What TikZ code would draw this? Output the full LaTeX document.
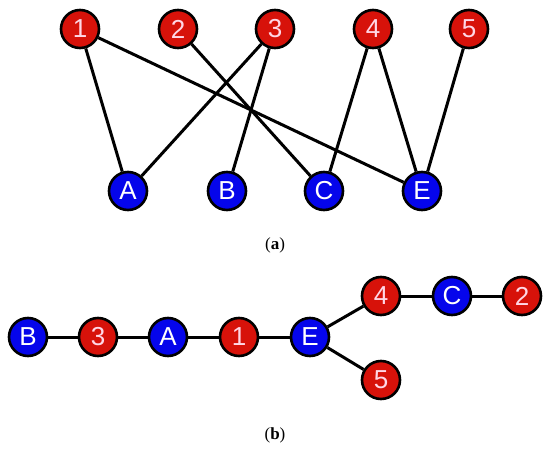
\documentclass[tikz,border=0pt]{standalone}
\usepackage{fontspec}
\newfontfamily\nodefont{Liberation Sans}
\newfontfamily\capfont{Liberation Serif}
\definecolor{nred}{RGB}{215,18,10}
\definecolor{nblue}{RGB}{5,5,235}
\definecolor{npink}{RGB}{255,215,230}
\tikzset{
  vert/.style={circle, draw=black, line width=2.6pt, minimum size=38pt, inner sep=0pt, font=\nodefont\fontsize{26}{26}\selectfont},
  rednode/.style={vert, fill=nred, text=npink},
  bluenode/.style={vert, fill=nblue, text=white},
  edge/.style={line width=3pt, black},
  captext/.style={font=\capfont\fontsize{17}{19}\selectfont}
}
\begin{document}
\begin{tikzpicture}[x=1pt,y=-1pt]
\useasboundingbox (0,0) rectangle (550,450);
% (a)
\node[rednode] (t1) at (80,29) {1};
\node[rednode] (t2) at (178,29) {2};
\node[rednode] (t3) at (275,29) {3};
\node[rednode] (t4) at (373,29) {4};
\node[rednode] (t5) at (469,29) {5};
\node[bluenode] (tA) at (128,191) {A};
\node[bluenode] (tB) at (227,191) {B};
\node[bluenode] (tC) at (324,191) {C};
\node[bluenode] (tE) at (422,191) {E};
\draw[edge] (t1) -- (tA);
\draw[edge] (t1) -- (tE);
\draw[edge] (t2) -- (tC);
\draw[edge] (t3) -- (tA);
\draw[edge] (t3) -- (tB);
\draw[edge] (t4) -- (tC);
\draw[edge] (t4) -- (tE);
\draw[edge] (t5) -- (tE);
\node[captext] (capa) at (275,245) {(\textbf{a})};
% (b)
\node[bluenode] (bB) at (28,337) {B};
\node[rednode] (b3) at (98,337) {3};
\node[bluenode] (bA) at (168,337) {A};
\node[rednode] (b1) at (239,337) {1};
\node[bluenode] (bE) at (310,337) {E};
\node[rednode] (b4) at (381,296) {4};
\node[bluenode] (bC) at (452,296) {C};
\node[rednode] (b2) at (522,296) {2};
\node[rednode] (b5) at (381,380) {5};
\draw[edge] (bB) -- (b3);
\draw[edge] (b3) -- (bA);
\draw[edge] (bA) -- (b1);
\draw[edge] (b1) -- (bE);
\draw[edge] (bE) -- (b4);
\draw[edge] (b4) -- (bC);
\draw[edge] (bC) -- (b2);
\draw[edge] (bE) -- (b5);
\node[captext] (capb) at (275,435) {(\textbf{b})};
\end{tikzpicture}
\end{document}
